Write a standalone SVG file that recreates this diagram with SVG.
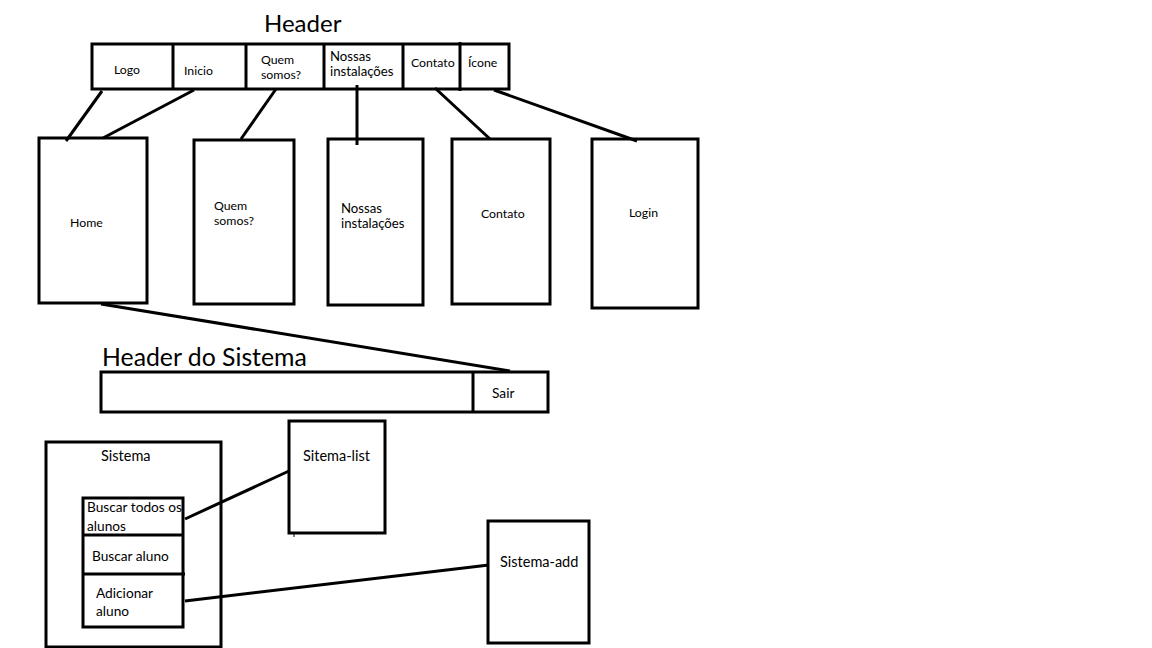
<svg xmlns="http://www.w3.org/2000/svg" width="1152" height="648" viewBox="0 0 1152 648">
<style>
.b{fill:none;stroke:#000;stroke-width:3}
.l{stroke:#000;stroke-width:3;fill:none}
text{font-family:Lato,"Open Sans",sans-serif;fill:#000}
.s{font-size:12.3px}
.n{font-size:13.2px}
.m{font-size:13.7px}
.k{font-size:14.5px}
.t{font-size:24px}
</style>
<rect width="1152" height="648" fill="#fff"/>
<g id="header">
<text class="t" x="264" y="32">Header</text>
<rect class="b" x="92" y="44" width="417" height="45"/>
<path class="l" d="M173 44V89M246 44V89M324 44V89M403 44V89M460 42V91"/>
<text class="s" x="114" y="74">Logo</text>
<text class="s" x="184" y="75">Inicio</text>
<text class="s" x="261" y="64">Quem</text>
<text class="s" x="261" y="79">somos?</text>
<text class="n" x="330" y="61">Nossas</text>
<text class="n" x="330" y="76">instalações</text>
<text class="s" x="411" y="67">Contato</text>
<text class="s" x="468" y="67">Ícone</text>
</g>
<g id="home"><rect class="b" x="39" y="138" width="108" height="165"/><text class="s" x="70" y="227">Home</text></g>
<g id="quem"><rect class="b" x="194" y="140" width="100" height="164"/><text class="s" x="214" y="210">Quem</text><text class="s" x="214" y="225">somos?</text></g>
<g id="nossas"><rect class="b" x="328" y="139" width="95" height="166"/><text class="n" x="341" y="213">Nossas</text><text class="n" x="341" y="228">instalações</text></g>
<g id="contato"><rect class="b" x="452" y="139" width="98" height="165"/><text class="s" x="481" y="218">Contato</text></g>
<g id="login"><rect class="b" x="592" y="139" width="106" height="169"/><text class="s" x="629" y="217">Login</text></g>
<g id="header-sistema">
<text class="t" x="102" y="366" style="font-size:24.8px">Header do Sistema</text>
<rect class="b" x="101" y="372" width="447" height="40"/>
<path class="l" d="M473 372V412"/>
<text class="m" x="492" y="398">Sair</text>
</g>
<g id="sistema">
<rect class="b" x="46" y="442" width="175" height="205"/>
<text class="k" x="101" y="461">Sistema</text>
<rect class="b" x="83" y="498" width="100" height="129"/>
<path class="l" d="M83 535H183M83 574H185"/>
<text class="m" x="87" y="512">Buscar todos os</text>
<text class="m" x="87" y="531">alunos</text>
<text class="m" x="92" y="561">Buscar aluno</text>
<text class="m" x="96" y="598">Adicionar</text>
<text class="m" x="96" y="616">aluno</text>
</g>
<g id="sistema-list"><rect class="b" x="289" y="421" width="96" height="112"/><path class="l" d="M294 533V537" style="stroke-width:1"/><text class="k" x="303" y="461">Sitema-list</text></g>
<g id="sistema-add"><rect class="b" x="488" y="521" width="101" height="122"/><text class="k" x="500" y="567">Sistema-add</text></g>
<g id="connectors">
<path class="l" d="M102 91L66 141"/>
<path class="l" d="M194 90L103 138"/>
<path class="l" d="M276 89L241 139"/>
<path class="l" d="M357 85V145"/>
<path class="l" d="M435 88L490 139"/>
<path class="l" d="M494 90L637 141"/>
<path class="l" d="M101 304L510 371"/>
<path class="l" d="M185 519L289 471"/>
<path class="l" d="M185 601L489 565"/>
</g>
</svg>
